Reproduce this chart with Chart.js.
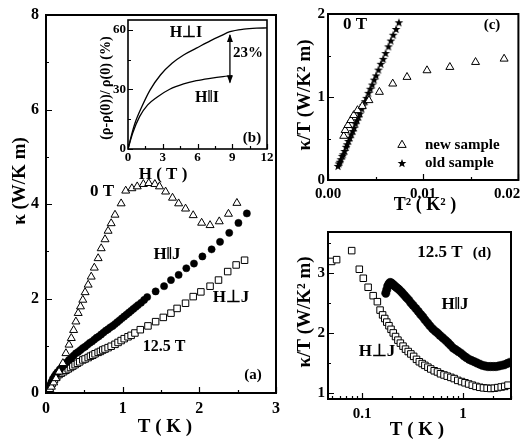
<!DOCTYPE html>
<html><head><meta charset="utf-8">
<script src="https://cdn.jsdelivr.net/npm/chart.js@4.4.1/dist/chart.umd.min.js"></script>
<style>
html,body{margin:0;padding:0;background:#fff;}
#wrap{position:relative;width:524px;height:445px;overflow:hidden;background:#fff;}
canvas{position:absolute;left:0;top:0;}
</style></head><body>
<div id="wrap">
<canvas id="ca" width="524" height="445"></canvas>
<canvas id="cb" width="524" height="445"></canvas>
<canvas id="cc" width="524" height="445"></canvas>
<canvas id="cd" width="524" height="445"></canvas>
</div>
<script>
// ---------- Panel (a): kappa vs T ----------
const T0 = [0.05,0.07,0.10,0.13,0.17,0.22,0.26,0.30,0.33,0.36,0.39,0.42,0.45,0.48,0.51,0.55,0.59,0.63,0.68,0.72,0.77,0.81,0.85,0.90,0.98,1.04,1.12,1.19,1.27,1.34,1.42,1.48,1.56,1.65,1.73,1.82,1.92,2.03,2.14,2.26,2.38,2.49];
const K0 = [0.08,0.13,0.22,0.31,0.45,0.63,0.84,1.02,1.16,1.33,1.51,1.69,1.83,1.97,2.13,2.29,2.46,2.65,2.85,3.06,3.25,3.43,3.59,3.77,4.01,4.28,4.33,4.37,4.42,4.44,4.42,4.37,4.26,4.13,4.01,3.90,3.76,3.60,3.55,3.63,3.79,4.02];
const TPar = [0.05,0.07,0.09,0.11,0.13,0.15,0.18,0.21,0.24,0.27,0.30,0.33,0.36,0.39,0.42,0.45,0.48,0.51,0.54,0.57,0.60,0.63,0.66,0.69,0.72,0.75,0.78,0.81,0.84,0.87,0.90,0.93,0.96,0.99,1.02,1.05,1.08,1.11,1.14,1.17,1.20,1.24,1.28,1.32,1.43,1.54,1.63,1.73,1.83,1.93,2.04,2.16,2.27,2.39,2.51,2.62];
const KPar = [0.16,0.23,0.30,0.35,0.40,0.44,0.50,0.55,0.60,0.65,0.70,0.74,0.79,0.84,0.87,0.91,0.95,0.98,1.02,1.06,1.09,1.13,1.17,1.20,1.24,1.28,1.32,1.35,1.39,1.42,1.46,1.50,1.54,1.58,1.62,1.66,1.70,1.74,1.78,1.82,1.86,1.91,1.97,2.03,2.15,2.26,2.39,2.50,2.64,2.74,2.89,3.04,3.20,3.39,3.60,3.80];
const TPerp = [0.05,0.08,0.11,0.14,0.17,0.20,0.23,0.26,0.29,0.32,0.35,0.38,0.41,0.44,0.48,0.51,0.55,0.58,0.61,0.64,0.68,0.71,0.74,0.77,0.81,0.85,0.90,0.94,0.98,1.02,1.07,1.11,1.16,1.23,1.33,1.43,1.53,1.63,1.71,1.82,1.92,2.02,2.14,2.25,2.37,2.48,2.59];
const KPerp = [0.10,0.20,0.28,0.34,0.39,0.42,0.45,0.48,0.51,0.54,0.57,0.60,0.63,0.66,0.70,0.72,0.75,0.78,0.80,0.83,0.86,0.88,0.91,0.93,0.96,0.99,1.03,1.07,1.11,1.15,1.19,1.22,1.27,1.34,1.42,1.51,1.60,1.69,1.79,1.90,2.04,2.14,2.26,2.39,2.57,2.71,2.81];
const xTicksA = [0,1,2,3], xLabelsA = ['0','1','2','3'], xMinorA = [0.5,1.5,2.5];
const yTicksA = [0,2,4,6,8], yLabelsA = ['0','2','4','6','8'], yMinorA = [1,3,5,7];

// ---------- Panel (b): magnetoresistance ----------
const HPerpB = [0,0.3,0.6,1.2,1.9,2.8,3.8,4.8,5.9,7.1,8.0,8.8,10.0,11.1,12.0];
const RPerpB = [0,7,13,21.4,29.7,37.3,43.2,47.4,50.8,54.5,57.0,59.1,60.4,60.9,61.0];
const HParB = [0,0.4,1.0,1.7,2.5,3.6,4.8,5.9,7.1,8.2,9.0];
const RParB = [0,7.9,16.3,22.2,26.1,30.1,32.8,34.4,35.6,36.5,37.0];
const arrowB = {h:8.8, from:33, to:58};
const xTicksB = [0,3,6,9,12], xLabelsB = ['0','3','6','9','12'], xMinorB = [1.5,4.5,7.5,10.5];
const yTicksB = [0,30,60], yLabelsB = ['0','30','60'], yMinorB = [15,45];

// ---------- Panel (c): kappa/T vs T^2 ----------
const seriesC = ['new sample','old sample'];
const XNewC = [0.00165,0.0018,0.0021,0.0024,0.0027,0.0031,0.0036,0.0043,0.0054,0.0068,0.0083,0.0104,0.0128,0.0155,0.0185];
const VNewC = [0.53,0.60,0.66,0.72,0.78,0.84,0.89,0.96,1.06,1.16,1.24,1.32,1.36,1.42,1.46];
const XOldC = [0.00105,0.00115,0.00125,0.00135,0.00150,0.00160,0.00175,0.00190,0.00200,0.00215,0.00230,0.00245,0.00260,0.00275,0.00290,0.00305,0.00320,0.00335,0.00355,0.00370,0.00390,0.00405,0.00425,0.00445,0.00465,0.00485,0.00505,0.00530,0.00555,0.00580,0.00605,0.00635,0.00660,0.00685,0.00715,0.00745];
const VOldC = [0.17,0.20,0.22,0.25,0.29,0.31,0.35,0.40,0.43,0.47,0.51,0.55,0.59,0.63,0.68,0.72,0.76,0.80,0.86,0.90,0.95,0.99,1.05,1.10,1.15,1.21,1.26,1.33,1.40,1.46,1.53,1.61,1.68,1.75,1.82,1.90];
const xTicksC = [0,0.01,0.02], xLabelsC = ['0.00','0.01','0.02'], xMinorC = [0.005,0.015];
const yTicksC = [0,1,2], yLabelsC = ['0','1','2'], yMinorC = [0.5,1.5];

// ---------- Panel (d): kappa/T vs T (log) at 12.5 T ----------
const TPerpD = [0.050,0.056,0.079,0.094,0.103,0.115,0.129,0.142,0.151,0.160,0.168,0.176,0.185,0.194,0.204,0.215,0.227,0.240,0.255,0.270,0.287,0.305,0.325,0.347,0.370,0.395,0.42,0.45,0.48,0.52,0.56,0.60,0.65,0.70,0.76,0.82,0.89,0.97,1.05,1.14,1.24,1.35,1.47,1.60,1.74,1.89,2.05,2.22,2.40,2.60,2.80];
const VPerpD = [3.19,3.22,3.37,3.06,2.91,2.76,2.62,2.52,2.38,2.30,2.24,2.18,2.12,2.06,2.00,1.94,1.88,1.83,1.78,1.73,1.69,1.65,1.61,1.56,1.52,1.49,1.46,1.43,1.40,1.37,1.35,1.32,1.30,1.28,1.26,1.24,1.21,1.19,1.17,1.15,1.13,1.11,1.095,1.085,1.08,1.075,1.08,1.09,1.10,1.11,1.13];
const TParD = [0.172,0.176,0.180,0.185,0.190,0.196,0.202,0.208,0.215,0.222,0.230,0.240,0.250,0.262,0.275,0.29,0.305,0.32,0.34,0.36,0.38,0.40,0.42,0.445,0.47,0.50,0.53,0.56,0.59,0.63,0.67,0.71,0.75,0.80,0.85,0.90,0.96,1.02,1.08,1.15,1.22,1.30,1.38,1.47,1.56,1.66,1.77,1.88,2.00,2.13,2.27,2.42,2.58,2.75,2.92];
const VParD = [2.66,2.72,2.78,2.82,2.84,2.83,2.81,2.79,2.77,2.75,2.73,2.70,2.67,2.63,2.59,2.55,2.50,2.46,2.41,2.36,2.31,2.27,2.22,2.17,2.12,2.07,2.03,2.00,1.96,1.92,1.88,1.84,1.80,1.75,1.72,1.69,1.66,1.62,1.59,1.56,1.54,1.52,1.50,1.48,1.46,1.45,1.44,1.44,1.44,1.44,1.45,1.46,1.47,1.49,1.51];
const xTicksD = [0.1,1], xLabelsD = ['0.1','1'], xMinorD = [0.05,0.06,0.07,0.08,0.09,0.2,0.3,0.4,0.5,0.6,0.7,0.8,0.9,2,3];
const yTicksD = [1,2,3], yLabelsD = ['1','2','3'], yMinorD = [1.5,2.5,3.5];

// ---------- helpers ----------
const SERIF = '"Liberation Serif", "Times New Roman", serif';
const F = (s) => 'bold ' + s + 'px ' + SERIF;
const zip = (xs, ys) => xs.map((x, i) => ({x, y: ys[i]}));

function starImg(r) {
  const c = document.createElement('canvas');
  const s = Math.ceil(2 * r + 2);
  c.width = s; c.height = s;
  const g = c.getContext('2d');
  g.translate(s / 2, s / 2 + 0.5);
  g.beginPath();
  for (let i = 0; i < 10; i++) {
    const rr = i % 2 ? r * 0.42 : r;
    const a = -Math.PI / 2 + i * Math.PI / 5;
    g.lineTo(rr * Math.cos(a), rr * Math.sin(a));
  }
  g.closePath(); g.fillStyle = '#000'; g.fill();
  return c;
}
const STAR = starImg(4.6);

function axis(o) {
  return {
    type: o.type || 'linear', min: o.min, max: o.max,
    grid: {display: false, drawTicks: false}, border: {display: false},
    ticks: {autoSkip: false, maxRotation: 0, minRotation: 0, padding: o.pad, color: '#000',
      font: {family: SERIF, size: o.font, weight: 'bold'},
      callback: (v, i) => o.labels[i] + (o.lastPad && i === o.labels.length - 1 ? o.lastPad : '')},
    afterBuildTicks: s => { s.ticks = o.ticks.map(v => ({value: v})); },
    afterFit: s => {
      if (o.horiz) s.height = o.size; else s.width = o.size;
      s.paddingLeft = 0; s.paddingRight = 0; s.paddingTop = 0; s.paddingBottom = 0;
    }
  };
}

const decor = {
  id: 'decor',
  beforeDatasetsDraw(chart, args, o) {
    if (!o || !o.fill) return;
    const a = chart.chartArea, ctx = chart.ctx;
    ctx.save(); ctx.fillStyle = '#fff';
    ctx.fillRect(a.left, a.top, a.right - a.left, a.bottom - a.top);
    ctx.restore();
  },
  afterDraw(chart, args, o) {
    if (!o || !o.on) return;
    const ctx = chart.ctx, a = chart.chartArea, xs = chart.scales.x, ys = chart.scales.y;
    ctx.save();
    ctx.strokeStyle = '#000';
    ctx.lineWidth = 1.2;
    ctx.beginPath();
    const tx = (vals, len) => vals.forEach(v => { const p = Math.round(xs.getPixelForValue(v)) + 0.5; ctx.moveTo(p, a.bottom); ctx.lineTo(p, a.bottom - len); });
    const ty = (vals, len) => vals.forEach(v => { const p = Math.round(ys.getPixelForValue(v)) + 0.5; ctx.moveTo(a.left, p); ctx.lineTo(a.left + len, p); });
    tx(o.majX, o.tl); tx(o.minX, o.tm); ty(o.majY, o.tl); ty(o.minY, o.tm);
    ctx.stroke();
    ctx.lineWidth = o.lw;
    ctx.strokeRect(a.left, a.top, a.right - a.left, a.bottom - a.top);
    if (o.arrow) {
      const x = xs.getPixelForValue(o.arrow.h), y1 = ys.getPixelForValue(o.arrow.from), y2 = ys.getPixelForValue(o.arrow.to);
      ctx.lineWidth = 1.3;
      ctx.beginPath(); ctx.moveTo(x, y1 - 1); ctx.lineTo(x, y2 + 1); ctx.stroke();
      ctx.fillStyle = '#000';
      ctx.beginPath(); ctx.moveTo(x, y2); ctx.lineTo(x - 3, y2 + 8); ctx.lineTo(x + 3, y2 + 8); ctx.closePath(); ctx.fill();
      ctx.beginPath(); ctx.moveTo(x, y1); ctx.lineTo(x - 3, y1 - 8); ctx.lineTo(x + 3, y1 - 8); ctx.closePath(); ctx.fill();
    }
    if (o.legend) {
      o.legend.forEach(l => {
        if (l.kind === 'tri') {
          const r = 4.8;
          ctx.lineWidth = 1; ctx.fillStyle = '#fff';
          ctx.beginPath();
          ctx.moveTo(l.x, l.y - r); ctx.lineTo(l.x + r * 0.866, l.y + r * 0.5); ctx.lineTo(l.x - r * 0.866, l.y + r * 0.5); ctx.closePath();
          ctx.fill(); ctx.stroke();
        } else {
          ctx.drawImage(STAR, l.x - STAR.width / 2, l.y - STAR.height / 2);
        }
        ctx.fillStyle = '#000'; ctx.font = F(15); ctx.textAlign = 'left'; ctx.textBaseline = 'middle';
        ctx.fillText(l.text, l.tx, l.y);
      });
    }
    ctx.fillStyle = '#000';
    (o.texts || []).forEach(t => {
      ctx.save();
      ctx.font = F(t.f); ctx.textAlign = t.al || 'center'; ctx.textBaseline = 'middle';
      ctx.translate(t.x, t.y); if (t.r) ctx.rotate(t.r);
      ctx.fillText(t.s, 0, 0);
      ctx.restore();
    });
    ctx.restore();
  }
};
Chart.register(decor);

const base = (padding, decorOpts, scales, datasets) => ({
  type: 'scatter',
  data: {datasets},
  options: {
    responsive: false, animation: false, events: [],
    layout: {padding},
    plugins: {legend: {display: false}, tooltip: {enabled: false}, decor: decorOpts},
    scales
  }
});
const ROT = -Math.PI / 2;

// ---- (a) ----
new Chart(document.getElementById('ca'), base(
  {left: 6, top: 15, right: 248, bottom: 22},
  {on: true, lw: 2, tl: 6, tm: 3, majX: xTicksA, minX: xMinorA, majY: yTicksA, minY: yMinorA,
   texts: [
    {s: 'κ (W/K m)', x: 20, y: 181, r: ROT, f: 19},
    {s: 'T ( K )', x: 165, y: 427, f: 19},
    {s: '0 T', x: 102, y: 192, f: 17},
    {s: 'H‖J', x: 167, y: 255, f: 17},
    {s: 'H⊥J', x: 231, y: 298, f: 17},
    {s: '12.5 T', x: 164, y: 347, f: 16},
    {s: '(a)', x: 253, y: 375, f: 15}
   ]},
  {
    x: axis({min: 0, max: 3, ticks: xTicksA, labels: xLabelsA, pad: 6, font: 16, horiz: true, size: 30}),
    y: axis({min: 0, max: 8, ticks: yTicksA, labels: yLabelsA, pad: 7, font: 16, size: 40})
  },
  [
    {label: '0 T', data: zip(T0, K0), pointStyle: 'triangle', pointRadius: 4.6, borderWidth: 1, borderColor: '#000', backgroundColor: '#fff'},
    {label: 'H||J', data: zip(TPar, KPar), pointStyle: 'circle', pointRadius: 3.6, borderWidth: 0.5, borderColor: '#000', backgroundColor: '#000'},
    {label: 'H⊥J', data: zip(TPerp, KPerp), pointStyle: 'rect', pointRadius: 4.6, borderWidth: 1, borderColor: '#000', backgroundColor: '#fff'}
  ]
));

// ---- (b) inset ----
new Chart(document.getElementById('cb'), base(
  {left: 108, top: 20, right: 257, bottom: 276},
  {on: true, fill: true, lw: 1.6, tl: 5, tm: 3, majX: xTicksB, minX: xMinorB, majY: yTicksB, minY: yMinorB,
   arrow: arrowB,
   texts: [
    {s: '(ρ-ρ(0))/ ρ(0) (%)', x: 106, y: 88, r: ROT, f: 14},
    {s: 'H ( T )', x: 163, y: 175, f: 17},
    {s: 'H⊥I', x: 186, y: 33, f: 16},
    {s: 'H‖I', x: 207, y: 98, f: 16},
    {s: '23%', x: 233, y: 53, f: 15, al: 'left'},
    {s: '(b)', x: 252, y: 138, f: 15}
   ]},
  {
    x: axis({min: 0, max: 12, ticks: xTicksB, labels: xLabelsB, pad: 1, font: 13, horiz: true, size: 20}),
    y: axis({min: 0, max: 65, ticks: yTicksB, labels: yLabelsB, pad: 2, font: 13, size: 20})
  },
  [
    {label: 'H⊥I', data: zip(HPerpB, RPerpB), showLine: true, pointRadius: 0, borderColor: '#000', borderWidth: 1.3, cubicInterpolationMode: 'monotone'},
    {label: 'H||I', data: zip(HParB, RParB), showLine: true, pointRadius: 0, borderColor: '#000', borderWidth: 1.3, cubicInterpolationMode: 'monotone'}
  ]
));

// ---- (c) ----
new Chart(document.getElementById('cc'), base(
  {left: 303, top: 14, right: 3, bottom: 245},
  {on: true, lw: 2, tl: 6, tm: 3, majX: xTicksC, minX: xMinorC, majY: yTicksC, minY: yMinorC,
   legend: [
    {kind: 'tri', x: 402, y: 145, tx: 425, text: seriesC[0]},
    {kind: 'star', x: 402, y: 163, tx: 425, text: seriesC[1]}
   ],
   texts: [
    {s: 'κ/T (W/K² m)', x: 305, y: 95, r: ROT, f: 19},
    {s: 'T² ( K² )', x: 425, y: 205, f: 18},
    {s: '0 T', x: 355, y: 25, f: 17},
    {s: '(c)', x: 492, y: 25, f: 15}
   ]},
  {
    x: axis({min: 0, max: 0.02, ticks: xTicksC, labels: xLabelsC, pad: 5, font: 15, horiz: true, size: 20, lastPad: '      '}),
    y: axis({min: 0, max: 2, ticks: yTicksC, labels: yLabelsC, pad: 3, font: 15, size: 25})
  },
  [
    {label: seriesC[0], data: zip(XNewC, VNewC), pointStyle: 'triangle', pointRadius: 4.6, borderWidth: 1, borderColor: '#000', backgroundColor: '#fff'},
    {label: seriesC[1], data: zip(XOldC, VOldC), pointStyle: STAR, pointRadius: 4.6}
  ]
));

// ---- (d) ----
new Chart(document.getElementById('cd'), base(
  {left: 303, top: 232, right: 13, bottom: 26},
  {on: true, lw: 2, tl: 6, tm: 3, majX: xTicksD, minX: xMinorD, majY: yTicksD, minY: yMinorD,
   texts: [
    {s: 'κ/T (W/K² m)', x: 305, y: 312, r: ROT, f: 19},
    {s: 'T ( K )', x: 417, y: 430, f: 19},
    {s: '12.5 T', x: 440, y: 253, f: 17},
    {s: '(d)', x: 482, y: 253, f: 15},
    {s: 'H‖J', x: 455, y: 305, f: 17},
    {s: 'H⊥J', x: 377, y: 352, f: 17}
   ]},
  {
    x: axis({type: 'logarithmic', min: 0.046, max: 3.0, ticks: xTicksD, labels: xLabelsD, pad: 6, font: 15, horiz: true, size: 20}),
    y: axis({min: 0.9, max: 3.68, ticks: yTicksD, labels: yLabelsD, pad: 3, font: 15, size: 25})
  },
  [
    {label: 'H||J', data: zip(TParD, VParD), pointStyle: 'circle', pointRadius: 4.2, borderWidth: 0.5, borderColor: '#000', backgroundColor: '#000'},
    {label: 'H⊥J', data: zip(TPerpD, VPerpD), pointStyle: 'rect', pointRadius: 4.6, borderWidth: 1, borderColor: '#000', backgroundColor: '#fff'}
  ]
));
</script>
</body></html>
